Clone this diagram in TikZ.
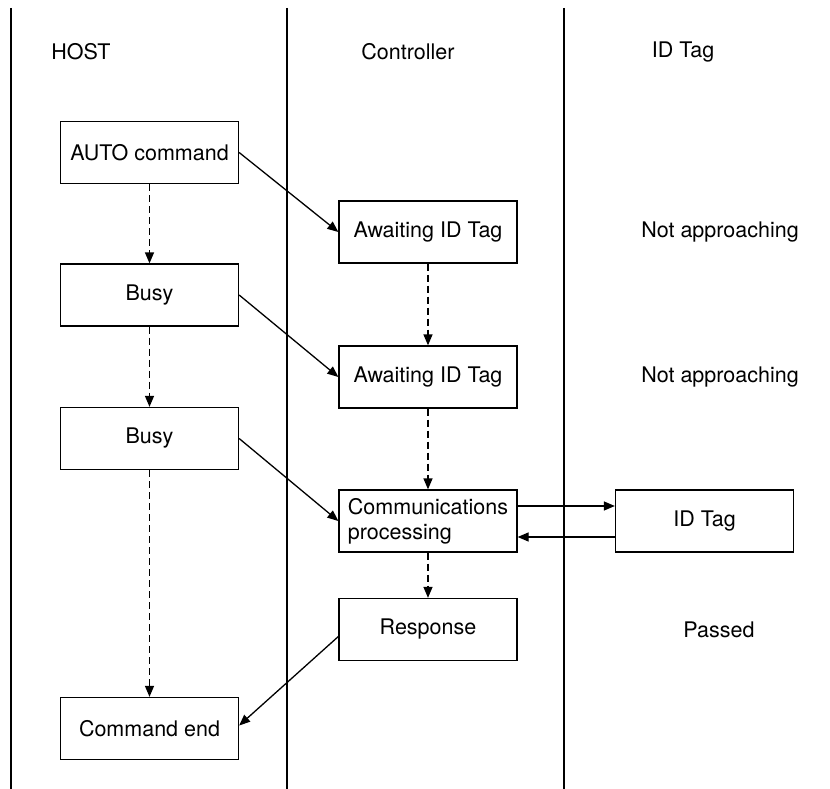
\documentclass[tikz,border=0pt]{standalone}
\usepackage{fontspec}
\setmainfont{TeX Gyre Heros}
\usetikzlibrary{arrows.meta, positioning, calc}
\tikzset{
  statebox/.style={draw, line width=1.3pt, minimum width=178pt,
    minimum height=62pt, inner sep=2pt},
  flow/.style={line width=1.3pt, -{Triangle[length=11pt, width=9pt]}},
  wait/.style={flow, dash pattern=on 7pt off 4pt},
  lane/.style={line width=1.3pt}
}

\begin{document}
\begin{tikzpicture}[x=1pt, y=-1pt, font=\fontsize{21.5}{25}\selectfont]
  \useasboundingbox (0,0) rectangle (830,789);
  \foreach \x in {11, 287, 564}{%
    \draw[lane] (\x,8) -- (\x,789);}
  \foreach \lab/\col in {HOST/81, Controller/408, ID Tag/683}{%
    \node at (\col,52) {\lab};}

  \node[statebox] (auto)   at (149.5,152.5) {AUTO command};
  \node[statebox] (busyA)  at (149.5,295)   {Busy};
  \node[statebox] (busyB)  at (149.5,438.5) {Busy};
  \node[statebox] (cmdend) at (149.5,728.5) {Command end};

  \node[statebox] (waitA) at (428,232)   {Awaiting ID Tag};
  \node[statebox] (waitB) at (428,377)   {Awaiting ID Tag};
  \node[statebox, align=left] (comms) at (428,521)
    {Communications\\processing};
  \node[statebox] (resp)  at (428,629.5) {Response};

  \node[statebox] (idtag) at (704.5,521) {ID Tag};
  \node (stA)  at (720,232) {Not approaching};
  \node (stB)  at (720,377) {Not approaching};
  \node (stC)  at (719,630) {Passed};

  \draw[wait] (auto) -- (busyA);
  \draw[wait] (busyA) -- (busyB);
  \draw[wait] (busyB) -- (cmdend);
  \draw[wait] (waitA) -- (waitB);
  \draw[wait] (waitB) -- (comms);
  \draw[wait] (comms) -- (resp);

  \draw[flow] (auto.east) -- (waitA.west);
  \draw[flow] (busyA.east) -- (waitB.west);
  \draw[flow] (busyB.east) -- (comms.west);
  \draw[flow] ([yshift=-7pt]resp.west) -- ([yshift=3pt]cmdend.east);
  \draw[flow] ([yshift=15pt]comms.east) -- ([yshift=15pt]idtag.west);
  \draw[flow] ([yshift=-16pt]idtag.west) -- ([yshift=-16pt]comms.east);
\end{tikzpicture}
\end{document}
